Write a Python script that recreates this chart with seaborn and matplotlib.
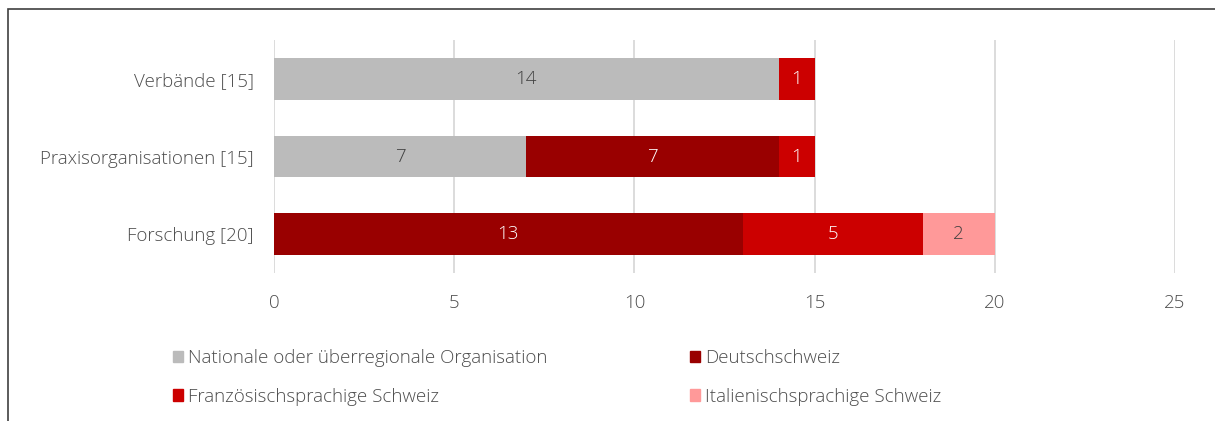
import numpy as np
import pandas as pd
import matplotlib
matplotlib.use("Agg")
import matplotlib.pyplot as plt
import seaborn as sns
from matplotlib.patches import Patch, Rectangle

categories = ["Verbände [15]", "Praxisorganisationen [15]", "Forschung [20]"]
series_names = ["Nationale oder überregionale Organisation", "Deutschschweiz",
                "Französischsprachige Schweiz", "Italienischsprachige Schweiz"]
national = [14, 7, 0]
deutsch = [0, 7, 13]
franz = [1, 1, 5]
ital = [0, 0, 2]
colors = ["#BBBBBB", "#990000", "#CC0000", "#FF9999"]
label_colors = ["#404040", "white", "white", "#404040"]
xticks = [0, 5, 10, 15, 20, 25]

sns.set_theme(style="white")
plt.rcParams["font.family"] = ["Open Sans", "DejaVu Sans"]
plt.rcParams["font.weight"] = "light"
TXT = "#4D4D4D"
FS = 13.5

fig = plt.figure(figsize=(12.15, 4.21), dpi=100)
ax = fig.add_axes([274/1215, 1-273/421, (1175-274)/1215, (273-40)/421])

vals = np.array([national, deutsch, franz, ital], dtype=float)
cum = np.cumsum(vals, axis=0)
df = pd.DataFrame({"cat": categories})
for i in range(3, -1, -1):
    df["v"] = cum[i]
    sns.barplot(data=df, y="cat", x="v", orient="h", color=colors[i],
                saturation=1, width=0.54, ax=ax, linewidth=0)

for i in range(4):
    for j in range(3):
        v = vals[i, j]
        if v > 0:
            xc = cum[i, j] - v / 2
            ax.text(xc, j, f"{int(v)}", ha="center", va="center",
                    color=label_colors[i], fontsize=FS, fontweight="light")

ax.set_xlim(0, 25)
ax.set_ylim(2.5, -0.5)
ax.set_xticks(xticks)
ax.set_xticklabels([str(t) for t in xticks])
ax.xaxis.grid(True, color="#D9D9D9", linewidth=1.3)
ax.set_axisbelow(True)
for s in ax.spines.values():
    s.set_visible(False)
ax.set_xlabel("")
ax.set_ylabel("")
ax.tick_params(axis="both", length=0, labelsize=FS, labelcolor=TXT)
ax.tick_params(axis="x", pad=15)
ax.tick_params(axis="y", pad=14.5)

handles = [Patch(color=colors[k], label=series_names[k]) for k in [0, 2, 1, 3]]
fig.legend(handles=handles, ncol=2, loc="upper left",
           bbox_to_anchor=(156/1215, 1-332/421), frameon=False,
           prop={"size": FS, "weight": "light"}, labelcolor=TXT,
           handlelength=0.55, handleheight=0.55,
           handletextpad=0.25, columnspacing=7.6, labelspacing=1.1)

fig.add_artist(Rectangle((8/1215, -0.1), 1.2, 1.1 - 9/421,
                         transform=fig.transFigure, fill=False,
                         edgecolor="#404040", linewidth=1.2))
fig.savefig("out.png", dpi=100)
